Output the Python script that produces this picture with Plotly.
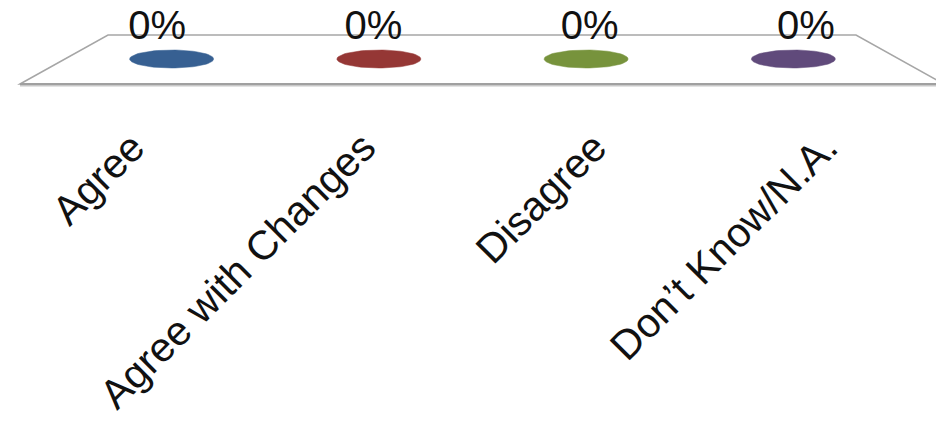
import numpy as np
import plotly.graph_objects as go

# ---------------- data ----------------
categories = ["Agree", "Agree with Changes", "Disagree", "Don\u2019t Know/N.A."]
values = [0, 0, 0, 0]                      # percent
value_labels = [f"{v:.0f}%" for v in values]
colors = ["#376092", "#953735", "#77933C", "#604A7B"]

# ---------------- geometry (pixels) ----------------
W, H = 936, 421
PLOT_H = 114                 # plot area height (top margin 0)
VALUE_Y_PX = 59              # pixel row of value 0
FRONT_L, FRONT_R, FRONT_Y = 20, 944, 84    # front edge of the floor
BACK_L, BACK_R, BACK_Y = 108, 856, 35      # back edge of the floor
MID_L, MID_R = 68, 897       # depth at which the discs sit
LAB_L, LAB_R = 49, 914       # depth at which the value labels sit
TICK_L, TICK_R = 17, 941     # category label positions
RX_PX, RY_PX = 42, 9         # disc half sizes
LABEL_UP_PX = 30

n = len(categories)


def axis_range(left_px, right_px):
    unit = (right_px - left_px) / n
    r0 = -0.5 - left_px / unit
    return [r0, r0 + W / unit], unit


tick_range, _ = axis_range(TICK_L, TICK_R)
mid_range, mid_unit = axis_range(MID_L, MID_R)
lab_range, _ = axis_range(LAB_L, LAB_R)

fig = go.Figure()

# discs (zero-height cylinders)
t = np.linspace(0, 2 * np.pi, 73)
for i, (cat, v, c) in enumerate(zip(categories, values, colors)):
    fig.add_trace(go.Scatter(
        x=i + (RX_PX / mid_unit) * np.cos(t),
        y=v + RY_PX * np.sin(t),
        mode="lines", fill="toself", fillcolor=c,
        line=dict(color=c, width=0.5),
        xaxis="x2", yaxis="y", name=cat, hoverinfo="skip",
        showlegend=False,
    ))

# value labels
fig.add_trace(go.Scatter(
    x=list(range(n)), y=[v + LABEL_UP_PX for v in values],
    mode="text", text=value_labels, textposition="middle center",
    textfont=dict(family="Liberation Sans, Arial, sans-serif", size=40, color="#111111"),
    xaxis="x3", yaxis="y", showlegend=False, hoverinfo="skip",
))

# anchor trace for the category axis
fig.add_trace(go.Scatter(
    x=list(range(n)), y=values, mode="markers", marker=dict(opacity=0),
    xaxis="x", yaxis="y", showlegend=False, hoverinfo="skip",
))


def px_x(p):
    return p / W


def px_y(p):
    return 1 - p / PLOT_H


floor_path = (
    f"M {px_x(FRONT_L)},{px_y(FRONT_Y)} L {px_x(BACK_L)},{px_y(BACK_Y)} "
    f"L {px_x(BACK_R)},{px_y(BACK_Y)} L {px_x(FRONT_R)},{px_y(FRONT_Y)} Z"
)
shapes = [
    dict(type="path", path=floor_path, xref="paper", yref="paper",
         line=dict(color="#a6a6a6", width=1.5), fillcolor="white", layer="below"),
    dict(type="line", xref="paper", yref="paper",
         x0=px_x(FRONT_L), x1=px_x(FRONT_R), y0=px_y(FRONT_Y + 1.5), y1=px_y(FRONT_Y + 1.5),
         line=dict(color="#c8c8c8", width=2), layer="below"),
    dict(type="line", xref="paper", yref="paper",
         x0=px_x(FRONT_L), x1=px_x(FRONT_R), y0=px_y(FRONT_Y), y1=px_y(FRONT_Y),
         line=dict(color="#a0a0a0", width=2), layer="below"),
]

hidden = dict(visible=False, showgrid=False, zeroline=False, fixedrange=True)

fig.update_layout(
    width=W, height=H,
    margin=dict(l=0, r=0, t=0, b=H - PLOT_H, pad=0),
    paper_bgcolor="white", plot_bgcolor="rgba(0,0,0,0)",
    showlegend=False,
    shapes=shapes,
    xaxis=dict(
        type="linear", range=tick_range, domain=[0, 1],
        tickmode="array", tickvals=list(range(n)), ticktext=categories,
        tickangle=-45, ticks="", showline=False, showgrid=False, zeroline=False,
        tickfont=dict(family="Liberation Sans, Arial, sans-serif", size=41, color="#111111"),
        automargin=False, fixedrange=True,
    ),
    xaxis2=dict(type="linear", range=mid_range, overlaying="x", anchor="y", **hidden),
    xaxis3=dict(type="linear", range=lab_range, overlaying="x", anchor="y", **hidden),
    yaxis=dict(range=[-(PLOT_H - VALUE_Y_PX), VALUE_Y_PX], **hidden),
)

fig.write_html(
    "out.html",
    config={"displayModeBar": False},
    post_script="document.body.style.margin='0';document.body.style.overflow='hidden';",
)
